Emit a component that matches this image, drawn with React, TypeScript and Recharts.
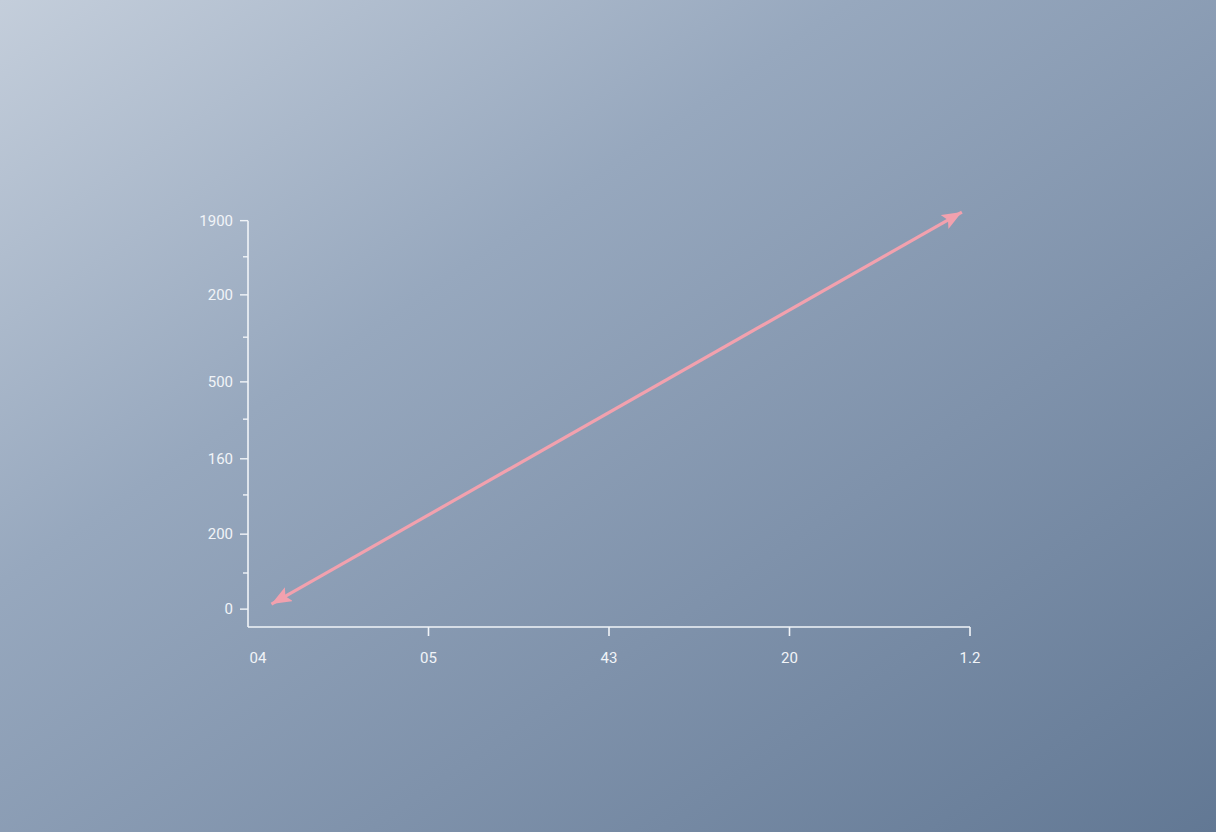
import React from "react";
import {
  LineChart,
  Line,
  XAxis,
  YAxis,
  ReferenceLine,
} from "recharts";

const xTickValues = [0, 1, 2, 3, 4];
const xTickLabels = ["04", "05", "43", "20", "1.2"];

// tick positions are slightly uneven in the original
const yTickValues = [0, 0.93, 1.93, 2.94, 3.87, 4.89, 5.85, 7.0, 8.09, 9.07, 10];
const yTickLabels = ["0", "", "200", "", "160", "", "500", "", "200", "", "1900"];

const arrowX = [0.13, 3.955];
const arrowY = [0.13, 10.22];

const data = arrowX.map((x, i) => ({ x, y: arrowY[i] }));

const Y_MIN = -0.46;
const Y_MAX = 10.3;
const INK = "#f1f4f8";
const PINK = "#f2a1ae";
const FONT = "Roboto, 'Noto Sans', sans-serif";

const XTick = (props: any) => {
  const { x, y, index } = props;
  const label = xTickLabels[index] ?? "";
  return (
    <g>
      {index > 0 && (
        <line x1={x} x2={x} y1={y - 8} y2={y + 1} stroke={INK} strokeWidth={1.6} />
      )}
      <text
        x={index === 0 ? x + 10 : x}
        y={y + 28}
        textAnchor="middle"
        fill={INK}
        fontSize={15}
        fontFamily={FONT}
      >
        {label}
      </text>
    </g>
  );
};

const YTick = (props: any) => {
  const { x, y, index } = props;
  const axisX = x + 8;
  const label = yTickLabels[index] ?? "";
  const major = label !== "";
  return (
    <g>
      <line
        x1={axisX - (major ? 8 : 5)}
        x2={axisX}
        y1={y}
        y2={y}
        stroke={INK}
        strokeWidth={1.4}
      />
      <text
        x={axisX - 15}
        y={y + 5}
        textAnchor="end"
        fill={INK}
        fontSize={15}
        fontFamily={FONT}
      >
        {label}
      </text>
    </g>
  );
};

export default function App() {
  return (
    <div
      style={{
        position: "absolute",
        left: 0,
        top: 0,
        width: 1216,
        height: 832,
        overflow: "hidden",
        background:
          "linear-gradient(to bottom right, #c4cedb 0%, #97a8be 35%, #7f92ab 65%, #627894 100%)",
      }}
    >
      <svg width={0} height={0} style={{ position: "absolute" }}>
        <defs>
          <marker
            id="arrowHead"
            viewBox="0 0 20 16"
            refX={20}
            refY={8}
            markerWidth={20}
            markerHeight={16}
            markerUnits="userSpaceOnUse"
            orient="auto-start-reverse"
          >
            <path d="M0,0 L20,8 L0,16 L4,8 z" fill={PINK} />
          </marker>
        </defs>
      </svg>
      <LineChart
        width={1216}
        height={832}
        data={data}
        margin={{ top: 209, right: 246, bottom: 175, left: 188 }}
      >
        <XAxis
          type="number"
          dataKey="x"
          domain={[0, 4]}
          ticks={xTickValues}
          interval={0}
          height={30}
          axisLine={{ stroke: INK, strokeWidth: 1.6 }}
          tickLine={false}
          tick={<XTick />}
        />
        <YAxis
          type="number"
          dataKey="y"
          domain={[Y_MIN, Y_MAX]}
          ticks={yTickValues}
          interval={0}
          width={60}
          axisLine={false}
          tickLine={false}
          tick={<YTick />}
          allowDataOverflow
        />
        <ReferenceLine
          segment={[
            { x: 0, y: Y_MIN },
            { x: 0, y: 10 },
          ]}
          stroke={INK}
          strokeWidth={1.6}
        />
        <Line
          type="linear"
          dataKey="y"
          stroke={PINK}
          strokeWidth={3.2}
          dot={false}
          activeDot={false}
          markerStart="url(#arrowHead)"
          markerEnd="url(#arrowHead)"
          isAnimationActive={false}
        />
      </LineChart>
    </div>
  );
}
